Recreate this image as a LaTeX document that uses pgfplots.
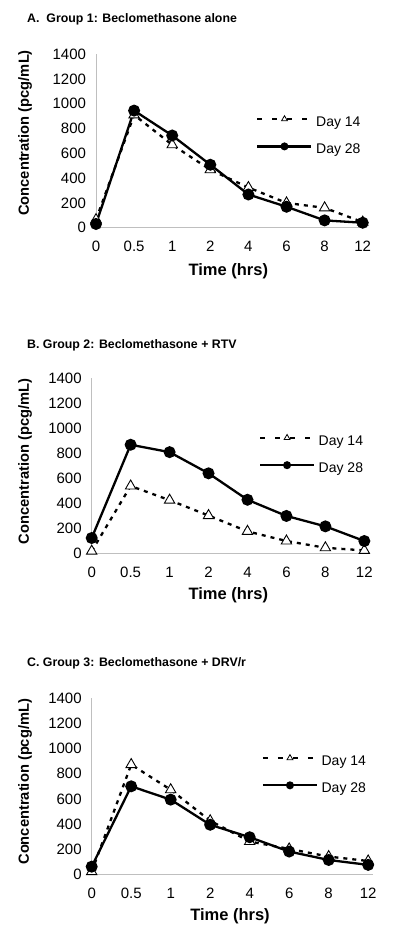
\documentclass[border=0pt]{standalone}
\usepackage{fontspec}
\setmainfont{Liberation Sans}
\usepackage{pgfplots}
\pgfplotsset{compat=1.18}
\pgfplotsset{
  panel/.style={
    scale only axis, anchor=south west,
    xmin=0, xmax=7.12, ymin=0, ymax=1400,
    axis x line*=bottom, axis y line*=left,
    axis line style={draw=black!25, line width=0.8pt, -},
    major tick length=0pt, tick style={draw=none},
    xtick={0,...,7}, xticklabels={0,0.5,1,2,4,6,8,12},
    ytick={0,200,...,1400},
    /pgf/number format/assume math mode=true,
    /pgf/number format/1000 sep={},
    ticklabel style={font=\fontsize{15}{16}\selectfont},
    yticklabel style={xshift=-6.5pt},
    xticklabel style={yshift=-10pt},
    clip=false,
    legend cell align=left,
    legend style={draw=none, fill=none, inner sep=0pt, outer sep=0pt,
      font=\fontsize{14}{16}\selectfont, anchor=north west,
      nodes={inner sep=0pt, text height=10pt, text depth=3pt},
      column sep=3.5pt, row sep=14pt},
    legend image code/.code={
      \draw[mark repeat=2,mark phase=2,##1] plot coordinates {(0pt,4pt) (27pt,4pt) (54pt,4pt)};
    },
  },
  d14/.style={black, line width=2.3pt, dash pattern=on 4pt off 5pt,
    mark=triangle*, mark size=6pt, mark options={solid, fill=white, line width=0.9pt}},
  d28/.style={black, line width=2.3pt, mark=*, mark size=4.8pt},
  l14/.style={black, line width=2.3pt, dash pattern=on 5pt off 10pt,
    mark=triangle*, mark size=3.4pt, mark options={solid, fill=white, line width=0.8pt}},
  l28/.style={black, line width=2.3pt, mark=*, mark size=2.8pt},
}
\begin{document}
\begin{tikzpicture}
\path[use as bounding box] (0pt,0pt) rectangle (400pt,-944pt);

% ---------- Panel A ----------
\node[anchor=west, inner sep=0pt, font=\bfseries\fontsize{12.35}{14}\selectfont] at (27pt,-19pt) {A.\ \ Group 1: Beclomethasone alone};
\begin{axis}[panel, at={(96pt,-227.7pt)}, width=271.3pt, height=173.5pt,
  legend style={at={(axis description cs:0.591,0.6455)}}]
\addlegendimage{l14}\addlegendentry{Day 14}
\addlegendimage{l28}\addlegendentry{Day 28}
\addplot[d14, forget plot] coordinates {(0,65) (1,910) (2,669) (3,468) (4,324) (5,200) (6,160) (7,45)};
\addplot[d28, forget plot] coordinates {(0,30) (1,945) (2,744) (3,508) (4,268) (5,169) (6,59) (7,40)};
\end{axis}
\node[rotate=90, inner sep=0pt, font=\bfseries\fontsize{14.7}{16}\selectfont] at (25pt,-133pt) {Concentration (pcg/mL)};
\node[inner sep=0pt, font=\bfseries\fontsize{16.5}{18}\selectfont] at (228.3pt,-271pt) {Time (hrs)};

% ---------- Panel B ----------
\node[anchor=west, inner sep=0pt, font=\bfseries\fontsize{12.35}{14}\selectfont] at (27pt,-345pt) {B. Group 2: Beclomethasone + RTV};
\begin{axis}[panel, at={(91.7pt,-553.8pt)}, width=277.3pt, height=175.5pt,
  legend style={at={(axis description cs:0.603,0.68)}}]
\addlegendimage{l14}\addlegendentry{Day 14}
\addlegendimage{l28}\addlegendentry{Day 28}
\addplot[d14, forget plot] coordinates {(0,21) (1,541) (2,428) (3,305) (4,179) (5,102) (6,48) (7,27)};
\addplot[d28, forget plot] coordinates {(0,126) (1,870) (2,811) (3,642) (4,431) (5,302) (6,219) (7,102)};
\end{axis}
\node[rotate=90, inner sep=0pt, font=\bfseries\fontsize{14.7}{16}\selectfont] at (25pt,-461.3pt) {Concentration (pcg/mL)};
\node[inner sep=0pt, font=\bfseries\fontsize{16.5}{18}\selectfont] at (228.3pt,-595pt) {Time (hrs)};

% ---------- Panel C ----------
\node[anchor=west, inner sep=0pt, font=\bfseries\fontsize{12.35}{14}\selectfont] at (27pt,-663.3pt) {C. Group 3: Beclomethasone + DRV/r};
\begin{axis}[panel, at={(91.7pt,-874.3pt)}, width=281.2pt, height=176pt,
  legend style={at={(axis description cs:0.605,0.68)}}]
\addlegendimage{l14}\addlegendentry{Day 14}
\addlegendimage{l28}\addlegendentry{Day 28}
\addplot[d14, forget plot] coordinates {(0,21) (1,873) (2,673) (3,426) (4,261) (5,202) (6,141) (7,106)};
\addplot[d28, forget plot] coordinates {(0,61) (1,700) (2,594) (3,394) (4,295) (5,181) (6,114) (7,75)};
\end{axis}
\node[rotate=90, inner sep=0pt, font=\bfseries\fontsize{14.7}{16}\selectfont] at (25pt,-781.7pt) {Concentration (pcg/mL)};
\node[inner sep=0pt, font=\bfseries\fontsize{16.5}{18}\selectfont] at (230pt,-916pt) {Time (hrs)};
\end{tikzpicture}
\end{document}
